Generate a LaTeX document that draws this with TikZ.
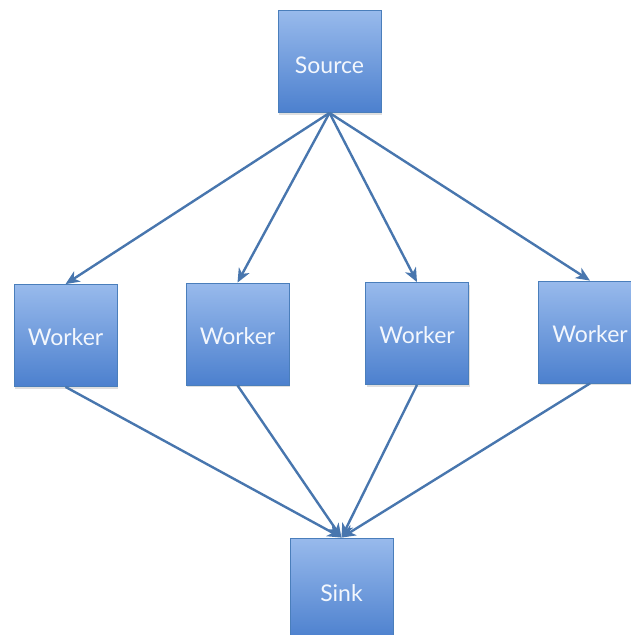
\documentclass[tikz,border=0pt]{standalone}
\usepackage{fontspec}
\setmainfont{Lato}
\usetikzlibrary{arrows.meta,shadows}
\definecolor{boxtop}{HTML}{98BAEC}
\definecolor{boxbot}{HTML}{4C80CE}
\definecolor{boxline}{HTML}{4A7EBB}
\definecolor{edgecol}{HTML}{4876AE}
\begin{document}
\begin{tikzpicture}[x=1pt,y=-1pt,
  box/.style={rectangle, minimum width=103pt, minimum height=102pt, inner sep=0pt,
    top color=boxtop, bottom color=boxbot, draw=boxline, line width=0.8pt,
    text=white!88!boxtop, font=\fontsize{23}{26}\selectfont,
    drop shadow={opacity=0.25, shadow xshift=1pt, shadow yshift=-2pt}},
  lbl/.style={text=white!88!boxtop, font=\fontsize{23}{26}\selectfont},
  flow/.style={draw=edgecol, line width=2.4pt, -{Stealth[length=14pt,width=12pt,inset=4pt]}}]
\useasboundingbox (0,0) rectangle (630,635);
\node[box] (src)  at (329.5,61.5) {};
\node[box] (w1)   at (65.5,335.5) {};
\node[box] (w2)   at (237.5,334)  {};
\node[box] (w3)   at (417,333.5)  {};
\node[box] (w4)   at (590,332)    {};
\node[box] (sink) at (341.5,589)  {};
\node[lbl] (tsrc)  at ([yshift=-4pt]src.center)  {Source};
\node[lbl] (tw1)   at ([yshift=-2pt]w1.center)   {Worker};
\node[lbl] (tw2)   at ([yshift=-2pt]w2.center)   {Worker};
\node[lbl] (tw3)   at ([yshift=-2pt]w3.center)   {Worker};
\node[lbl] (tw4)   at ([yshift=-2pt]w4.center)   {Worker};
\node[lbl] (tsink) at ([yshift=-4pt]sink.center) {Sink};
\foreach \w in {w1,w2,w3,w4} {
  \draw[flow] (src.south) -- (\w.north);
  \draw[flow] (\w.south) -- (sink.north);
}
\end{tikzpicture}
\end{document}
